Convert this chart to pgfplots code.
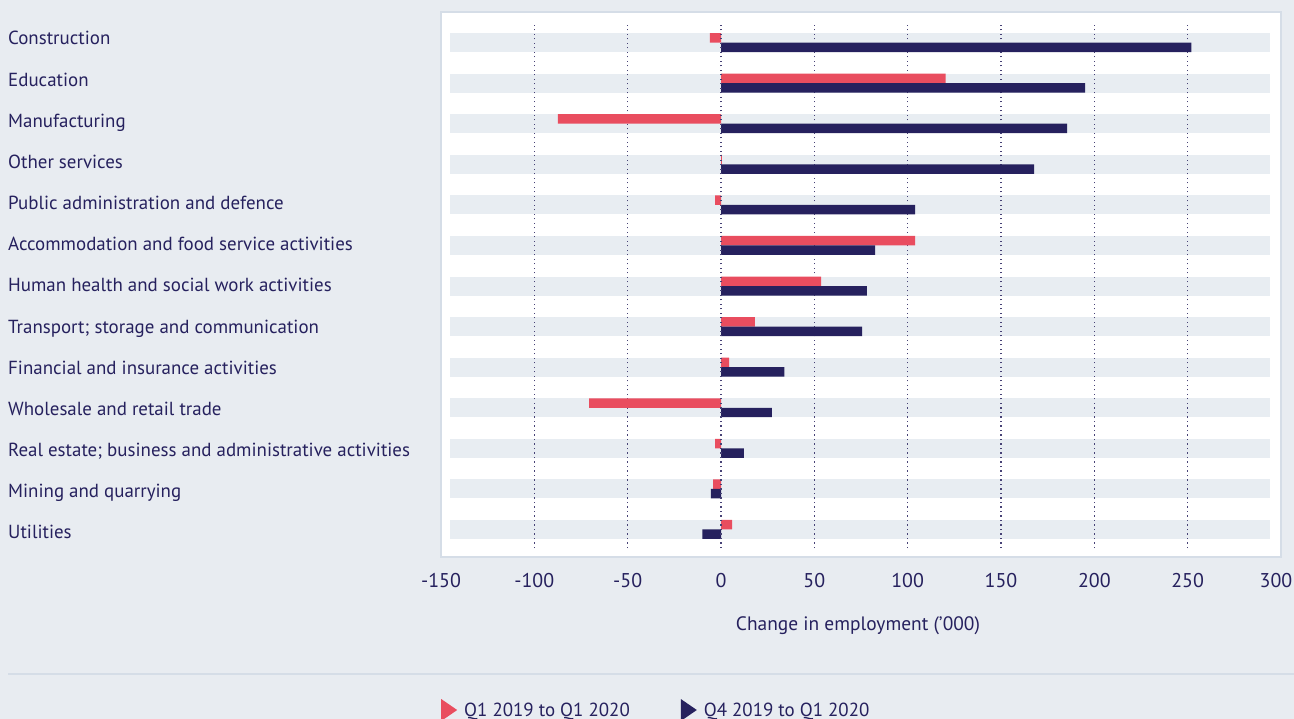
\documentclass[border=0pt]{standalone}
\usepackage{pgfplots}
\pgfplotsset{compat=1.18}
\usepackage{pgfplotstable}
\usepackage{fontspec}
\setmainfont{PT Sans}
\definecolor{bgc}{RGB}{232,236,241}
\definecolor{bandc}{RGB}{232,237,242}
\definecolor{borderc}{RGB}{213,221,231}
\definecolor{pinkc}{RGB}{233,77,95}
\definecolor{navyc}{RGB}{38,33,94}
\pgfplotstableread{
y q1 q4
12 -6 252
11 120.3 195
10 -87.4 185.4
9 0.5 167.7
8 -3.2 104
7 104 82.5
6 53.6 78.2
5 18.2 75.6
4 4.4 33.9
3 -70.6 27.3
2 -3.1 12.3
1 -4.2 -5.4
0 5.9 -10
}\datatable
\newcommand{\lblfont}{\fontsize{19}{23}\selectfont}
\newcommand{\tickfont}{\fontsize{20}{24}\selectfont}
\newcommand{\xlblfont}{\fontsize{19.5}{23}\selectfont}
\begin{document}
\begin{tikzpicture}
\fill[bgc] (0,0) rectangle (1294bp,-719bp);
\useasboundingbox (0,0) rectangle (1294bp,-719bp);
\draw[borderc, line width=1.3bp] (8bp,-674bp) -- (1294bp,-674bp);
\begin{axis}[
  at={(441bp,-12bp)}, anchor=north west,
  scale only axis, width=840bp, height=545bp,
  xmin=-150, xmax=300, ymin=-0.678, ymax=12.752,
  axis line style={draw=borderc, line width=1.5bp},
  axis background/.style={fill=white},
  xtick={-150,-100,-50,0,50,100,150,200,250,300},
  xticklabels={-150,-100,-50,0,50,100,150,200,250,\kern-10bp 300},
  ytick={-0.037,0.977,1.992,3.006,4.021,5.035,6.050,7.064,8.079,9.093,10.108,11.122,12.137},
  yticklabels={Utilities,Mining and quarrying,{Real estate; business and administrative activities},Wholesale and retail trade,Financial and insurance activities,Transport; storage and communication,Human health and social work activities,Accommodation and food service activities,Public administration and defence,Other services,Manufacturing,Education,Construction},
  major tick length=0pt,
  tick style={draw=none},
  /pgf/number format/assume math mode=true,
  ticklabel style={text=navyc},
  xticklabel style={font=\tickfont, anchor=center, yshift=-27bp, inner sep=0pt, text height=0.7em, text depth=0pt},
  yticklabel style={font=\lblfont, anchor=west, inner sep=0pt, xshift=-433bp, yshift=-4.5bp, text height=0.7em, text depth=0pt},
  xlabel={Change in employment ('000)},
  xlabel style={at={(axis description cs:0.4964,0)}, anchor=center, yshift=-70.5bp, font=\xlblfont, text=navyc, inner sep=0pt, text height=0.7em, text depth=0pt},
  legend style={at={(0,0)}, anchor=west, yshift=-153bp, draw=none, fill=none, inner sep=0pt,
    font=\lblfont, text=navyc, legend columns=2, legend cell align=left,
    /tikz/every even column/.append style={column sep=49bp}},
  clip=false,
]
\pgfplotsinvokeforeach{0,...,12}{
  \fill[bandc] ([yshift=-9.5bp]axis cs:-145,#1) rectangle ([yshift=9.5bp]axis cs:294,#1);
}
\pgfplotsinvokeforeach{-100,-50,50,100,150,200,250}{
  \draw[navyc!85, line width=1.2bp, dash pattern=on 1.4bp off 3.1bp] (axis cs:#1,-0.456) -- (axis cs:#1,12.505);
}
\addplot[xbar, bar width=0.234, bar shift=0.117, fill=pinkc, draw=none,
  legend image code/.code={\fill[pinkc] (0bp,-11bp) -- (16bp,0bp) -- (0bp,11bp) -- cycle; \path (21bp,0bp);}]
  table[x=q1, y=y]{\datatable};
\addlegendentry{Q1 2019 to Q1 2020}
\addplot[xbar, bar width=0.234, bar shift=-0.117, fill=navyc, draw=none,
  legend image code/.code={\fill[navyc] (0bp,-11bp) -- (16bp,0bp) -- (0bp,11bp) -- cycle; \path (21bp,0bp);}]
  table[x=q4, y=y]{\datatable};
\addlegendentry{Q4 2019 to Q1 2020}
\draw[navyc!85, line width=1.2bp, dash pattern=on 1.4bp off 3.1bp] (axis cs:0,-0.456) -- (axis cs:0,12.505);
\end{axis}
\end{tikzpicture}
\end{document}
